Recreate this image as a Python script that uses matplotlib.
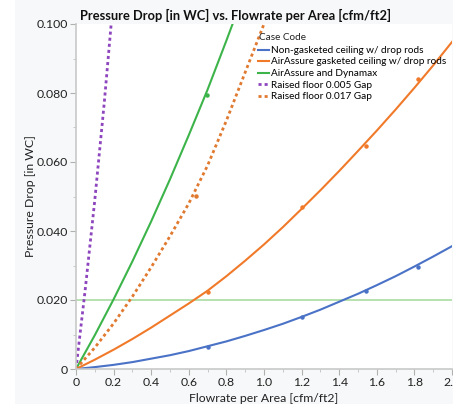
import matplotlib.pyplot as plt
from matplotlib.patches import Rectangle

plt.rcParams['font.family'] = ['Lato', 'DejaVu Sans']

# 拟合曲线上读取的数值（每 0.1 一个点）
x_fit = [0.0, 0.1, 0.2, 0.3, 0.4, 0.5, 0.6, 0.7, 0.8, 0.9, 1.0,
         1.1, 1.2, 1.3, 1.4, 1.5, 1.6, 1.7, 1.8, 1.9, 2.0]
non_gasketed = [0.0, 0.00055, 0.0012, 0.0020, 0.0030, 0.0040, 0.0052, 0.0066, 0.0080, 0.0096, 0.0113,
                0.0131, 0.0151, 0.0172, 0.0195, 0.0218, 0.0243, 0.0269, 0.0297, 0.0326, 0.0356]
airassure_gasketed = [0.0, 0.0027, 0.0056, 0.0087, 0.0120, 0.0155, 0.0190, 0.0227, 0.0269, 0.0314, 0.0361,
                      0.0411, 0.0464, 0.0518, 0.0574, 0.0632, 0.0691, 0.0752, 0.0815, 0.0880, 0.0948]

x_dynamax = [0.0, 0.1, 0.2, 0.3, 0.4, 0.5, 0.6, 0.7, 0.8, 0.9]
airassure_dynamax = [0.0, 0.0098, 0.0202, 0.0312, 0.0428, 0.0550, 0.0678, 0.0810, 0.0952, 0.1098]

x_gap005 = [0.0, 0.05, 0.1, 0.15, 0.2, 0.25]
gap005 = [0.0, 0.0235, 0.049, 0.077, 0.108, 0.140]

x_gap017 = [0.0, 0.1, 0.2, 0.3, 0.4, 0.5, 0.6, 0.7, 0.8, 0.9, 1.0, 1.1]
gap017 = [0.0, 0.0062, 0.0132, 0.0210, 0.0295, 0.0385, 0.0480, 0.0590, 0.0720, 0.0860, 0.1000, 0.1147]

# 实测数据点
pts_x_non = [0.70, 1.20, 1.54, 1.82]
pts_y_non = [0.0063, 0.0150, 0.0226, 0.0295]
pts_x_air = [0.70, 1.20, 1.54, 1.82]
pts_y_air = [0.0224, 0.0470, 0.0646, 0.0840]
pts_x_dyn = [0.695]
pts_y_dyn = [0.0793]
pts_x_017 = [0.64]
pts_y_017 = [0.0501]

labels = ['Non-gasketed ceiling w/ drop rods',
          'AirAssure gasketed ceiling w/ drop rods',
          'AirAssure and Dynamax',
          'Raised floor 0.005 Gap',
          'Raised floor 0.017 Gap']
colors = ['#4a72c6', '#f07a2a', '#3cb44a', '#8e46bf', '#e07a30']

fig = plt.figure(figsize=(4.53, 4.09), dpi=100, facecolor='white')
# 浅灰色背景面板
fig.patches.append(Rectangle((15 / 453, 5 / 409), 438 / 453, 404 / 409,
                             transform=fig.transFigure, facecolor='#f7f8f9',
                             edgecolor='none', zorder=-1))

ax = fig.add_axes([76 / 453, 40 / 409, 376 / 453, 345 / 409])
ax.set_facecolor('white')

dot = (0, (1.1, 1.1))
ax.plot(x_fit, non_gasketed, color=colors[0], lw=1.5, label=labels[0])
ax.plot(x_fit, airassure_gasketed, color=colors[1], lw=1.5, label=labels[1])
ax.plot(x_dynamax, airassure_dynamax, color=colors[2], lw=1.5, label=labels[2])
ax.plot(x_gap005, gap005, color=colors[3], lw=2, linestyle=dot, label=labels[3])
ax.plot(x_gap017, gap017, color=colors[4], lw=2, linestyle=dot, label=labels[4])

ax.plot(pts_x_non, pts_y_non, 'o', color=colors[0], ms=2.2)
ax.plot(pts_x_air, pts_y_air, 'o', color=colors[1], ms=2.2)
ax.plot(pts_x_dyn, pts_y_dyn, 'o', color=colors[2], ms=2.2)
ax.plot(pts_x_017, pts_y_017, 'o', color=colors[4], ms=2.2)

# 0.020 参考线
ax.axhline(0.02, color='#a9dba2', lw=1.2, zorder=0)

ax.set_xlim(0, 2.0)
ax.set_ylim(0, 0.1)
ax.set_xticks([0, 0.2, 0.4, 0.6, 0.8, 1.0, 1.2, 1.4, 1.6, 1.8, 2.0])
ax.set_xticklabels(['0', '0.2', '0.4', '0.6', '0.8', '1.0', '1.2', '1.4', '1.6', '1.8', '2.0'])
ax.set_xticks([0.1, 0.3, 0.5, 0.7, 0.9, 1.1, 1.3, 1.5, 1.7, 1.9], minor=True)
ax.set_yticks([0, 0.02, 0.04, 0.06, 0.08, 0.1])
ax.set_yticklabels(['0', '0.020', '0.040', '0.060', '0.080', '0.100'])
ax.set_yticks([0.01, 0.03, 0.05, 0.07, 0.09], minor=True)
ax.tick_params(axis='both', which='major', labelsize=8.8, length=4, color='#b0b0b0',
               labelcolor='#222222', pad=2)
ax.tick_params(axis='both', which='minor', length=2.5, color='#c0c0c0')

for side in ['top', 'right']:
    ax.spines[side].set_visible(False)
for side in ['left', 'bottom']:
    ax.spines[side].set_color('#c8c8c8')
    ax.spines[side].set_linewidth(1.2)

fig.text(236 / 453, 1 - 15 / 409, 'Pressure Drop [in WC] vs. Flowrate per Area [cfm/ft2]',
         ha='center', va='center', fontsize=9.3, fontweight='bold', color='#111111')
fig.text(264 / 453, 1 - 398 / 409, 'Flowrate per Area [cfm/ft2]',
         ha='center', va='center', fontsize=8.8, color='#222222')
fig.text(31 / 453, 1 - 196 / 409, 'Pressure Drop [in WC]', rotation=90,
         ha='center', va='center', fontsize=8.8, color='#222222')

# 图例标题单独放置
fig.text(259 / 453, 1 - 37 / 409, 'Case Code', ha='left', va='center',
         fontsize=7.2, color='#222222')
ax.legend(loc='upper left', bbox_to_anchor=(258 / 453, 1 - 46 / 409),
          bbox_transform=fig.transFigure, frameon=False,
          fontsize=7.2, handlelength=1.1, handletextpad=0.2,
          labelspacing=0.25, borderpad=0, borderaxespad=0)

fig.savefig('out.png', dpi=100, facecolor=fig.get_facecolor())
